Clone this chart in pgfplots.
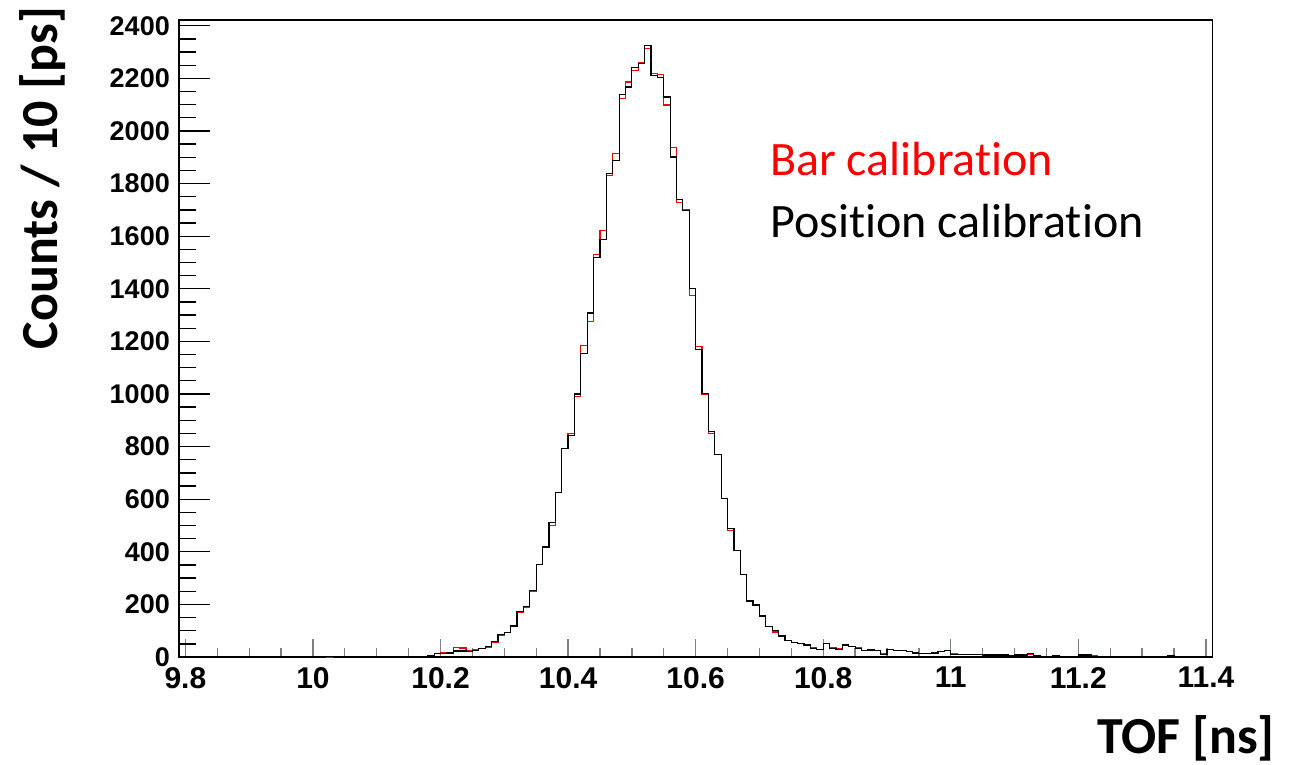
\documentclass[border=0pt]{standalone}
\usepackage{pgfplots}
\pgfplotsset{compat=1.18}
\usepackage{pgfplotstable}
\usepackage{fontspec}
\setmainfont{Carlito}[Ligatures=NoCommon]
\newfontfamily\helv{Liberation Sans}
\pgfplotstableread{
x b r
9.79 0 0
10.02 2 0
10.03 2 1
10.04 2 1
10.05 1 2
10.06 1 2
10.07 1 1
10.08 1 2
10.09 0 0
10.10 0 1
10.11 2 2
10.12 2 2
10.13 2 2
10.14 3 3
10.15 3 3
10.16 3 3
10.17 3 3
10.18 4 3
10.19 14 13
10.20 14 15
10.21 15 14
10.22 23 36
10.23 23 34
10.24 20 24
10.25 26 30
10.26 32 32
10.27 40 38
10.28 58 55
10.29 87 82
10.30 94 94
10.31 118 120
10.32 173 170
10.33 192 190
10.34 252 248
10.35 353 352
10.36 418 420
10.37 511 499
10.38 626 626
10.39 794 794
10.40 841 849
10.41 1000 991
10.42 1153 1185
10.43 1308 1276
10.44 1519 1530
10.45 1587 1623
10.46 1837 1830
10.47 1889 1913
10.48 2139 2123
10.49 2167 2186
10.50 2241 2231
10.51 2257 2260
10.52 2326 2313
10.53 2212 2219
10.54 2203 2215
10.55 2129 2099
10.56 1901 1936
10.57 1740 1729
10.58 1698 1700
10.59 1402 1375
10.60 1169 1180
10.61 1001 1000
10.62 858 850
10.63 769 769
10.64 604 604
10.65 490 480
10.66 405 405
10.67 313 313
10.68 213 210
10.69 198 198
10.70 156 156
10.71 115 115
10.72 100 95
10.73 80 82
10.74 62 62
10.75 54 56
10.76 52 52
10.77 46 48
10.78 33 36
10.79 29 30
10.80 52 50
10.81 33 36
10.82 29 32
10.83 46 45
10.84 39 40
10.85 33 35
10.86 24 26
10.87 27 27
10.88 24 25
10.89 10 12
10.90 29 28
10.91 24 24
10.92 24 24
10.93 22 20
10.94 15 15
10.95 12 12
10.96 12 12
10.97 15 18
10.98 21 22
10.99 24 25
11.00 10 12
11.01 10 10
11.02 10 10
11.03 10 10
11.04 10 10
11.05 8 8
11.06 8 8
11.07 8 8
11.08 8 8
11.09 5 6
11.10 8 8
11.11 8 8
11.12 14 10
11.13 5 6
11.14 2 3
11.15 2 3
11.16 6 5
11.17 2 3
11.18 0 1
11.19 3 3
11.20 8 8
11.21 8 8
11.22 2 5
11.23 3 3
11.24 2 2
11.25 2 2
11.26 2 2
11.27 2 2
11.28 2 2
11.29 2 2
11.30 2 2
11.31 2 2
11.32 2 2
11.33 2 2
11.34 6 5
11.35 2 2
11.36 0 1
11.37 0 1
11.38 2 2
11.39 2 2
11.40 2 2
11.41 2 2
}\histdata
\begin{document}
\begin{tikzpicture}[x=1pt,y=1pt]
\useasboundingbox (0,0) rectangle (1297,764);
\begin{axis}[
  at={(179pt,107pt)}, anchor=south west,
  scale only axis, width=1033.3pt, height=637pt,
  xmin=9.79, xmax=11.41, ymin=0, ymax=2422,
  axis line style={line width=1.6pt},
  xtick={9.8,10,10.2,10.4,10.6,10.8,11,11.2,11.4},
  xticklabels={9.8,10,10.2,10.4,10.6,10.8,11,11.2,11.4},
  ytick={0,200,...,2400},
  yticklabels={0,200,400,600,800,1000,1200,1400,1600,1800,2000,2200,2400},
  minor x tick num=3, minor y tick num=0,
  major tick length=18pt, minor tick length=9pt,
  tick align=inside, xtick pos=bottom, ytick pos=left,
  xtick style={line width=1.3pt},
  minor x tick style={line width=1.3pt},
  ytick style={draw=none},
  xticklabel style={font=\helv\bfseries\fontsize{30}{30}\selectfont, inner sep=0pt, anchor=north, yshift=-10pt},
  yticklabel style={font=\helv\bfseries\fontsize{27}{27}\selectfont, inner sep=0pt, anchor=east, xshift=-9pt},
  clip=false,
]
\addplot[const plot, red, line width=1.2pt] table[x=x, y=r] {\histdata};
\addplot[const plot, black, line width=1.2pt] table[x=x, y=b] {\histdata};
\pgfplotsinvokeforeach{50,100,...,2400}{\draw[line width=1.3pt] (axis cs:9.79,#1) -- (axis cs:9.8167,#1);}
\pgfplotsinvokeforeach{200,400,...,2400}{\draw[line width=1.3pt] (axis cs:9.79,#1) -- (axis cs:9.8386,#1);}
\end{axis}
\node[anchor=base west, text=red, inner sep=0pt, font=\fontsize{48}{48}\selectfont] at (770,588) {Bar calibration};
\node[anchor=base west, text=black, inner sep=0pt, font=\fontsize{48}{48}\selectfont] at (770,526) {Position calibration};
\node[rotate=90, anchor=base, inner sep=0pt, font=\bfseries\fontsize{52}{52}\selectfont] at (57,586) {Counts / 10 [ps]};
\node[anchor=base east, inner sep=0pt, font=\bfseries\fontsize{52}{52}\selectfont] at (1275,11) {TOF [ns]};
\end{tikzpicture}
\end{document}
